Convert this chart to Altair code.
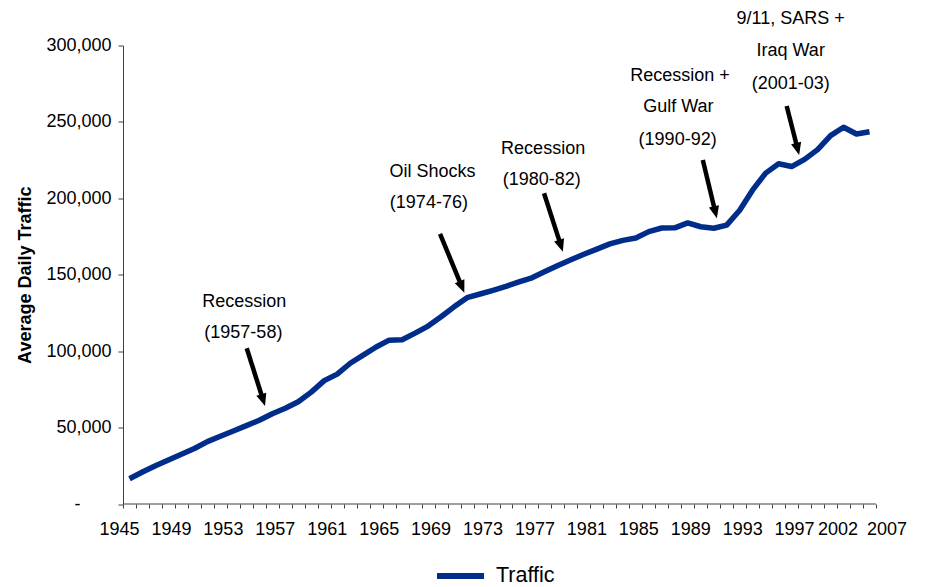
import math
import altair as alt
import pandas as pd

# ---------------- data ----------------
years = list(range(1945, 2003))
traffic = [16500, 20900, 25000, 28800, 32500, 36300, 40800, 44300, 47800, 51300,
           54800, 59100, 62700, 66900, 73200, 80700, 85000, 92100, 97400, 102700,
           107200, 107500, 111800, 116400, 122500, 129000, 135000, 137400, 139800, 142400,
           145300, 148000, 152100, 156100, 159800, 163400, 166800, 170200, 172500, 174000,
           178200, 180600, 180700, 183900, 181400, 180400, 182500, 192200, 205500, 216500,
           222600, 220800, 225500, 231900, 241000, 246500, 242100, 243600]
series_name = "Traffic"

x_tick_labels = ["1945", "1949", "1953", "1957", "1961", "1965", "1969", "1973",
                 "1977", "1981", "1985", "1989", "1993", "1997", "2002", "2007"]
x_label_slots = [1945, 1949, 1953, 1957, 1961, 1965, 1969, 1973,
                 1977, 1981, 1985, 1989, 1993, 1997, 2000.35, 2004.12]
y_ticks = [0, 50000, 100000, 150000, 200000, 250000, 300000]

ann_text = ["Recession", "(1957-58)", "Oil Shocks", "(1974-76)", "Recession", "(1980-82)",
            "Recession +", "Gulf War", "(1990-92)", "9/11, SARS +", "Iraq War", "(2001-03)"]
ann_x = [1954.34, 1954.27, 1968.84, 1968.56, 1977.36, 1977.26,
         1987.91, 1987.78, 1987.72, 1996.43, 1996.43, 1996.43]
ann_y = [132400, 111700, 217400, 196700, 232300, 212000,
         280000, 260000, 238200, 317300, 296400, 274800]

arrow_x1 = [1954.53, 1969.42, 1977.43, 1989.66, 1996.12]
arrow_y1 = [101900, 176700, 203300, 225100, 260400]
arrow_x2 = [1955.94, 1971.29, 1978.88, 1990.74, 1997.08]
arrow_y2 = [64100, 138300, 165100, 186900, 228400]

# ---------------- layout / style ----------------
X0, X1 = 1945, 2003          # extent of the category axis line
X_END = 2004.2               # scale end (room for the last, overhanging label)
PX_PER_YEAR = 753 / (X1 - X0)
W = PX_PER_YEAR * (X_END - X0)
H = 458.5
YMAX = 300000
PAD_L, PAD_T, PAD_B = 115, 37.5, 83
PAD_R = 914 - PAD_L - W
FONT = "Liberation Sans"
LINE_COLOR = "#002D8A"
AXIS_COLOR = "#404040"
HEAD_LEN = 12.4
HEAD_PATH = "M0,0L-0.8,-1.9L0.8,-1.9Z"

df = pd.DataFrame({"year": years, "traffic": traffic})
df["series"] = series_name
df["mid"] = df["year"] + 0.5

ann = pd.DataFrame({"text": ann_text, "x": ann_x, "y": ann_y})
baseline = pd.DataFrame({"a": [X0], "b": [X1], "c": [0]})

pxy = H / YMAX
rows = []
for a, b, c, d in zip(arrow_x1, arrow_y1, arrow_x2, arrow_y2):
    dxp = (c - a) * PX_PER_YEAR
    dyp = (b - d) * pxy
    ln = math.hypot(dxp, dyp)
    theta = math.degrees(math.atan2(dxp, dyp))
    back = HEAD_LEN * 0.7
    sx = c - (dxp / ln) * back / PX_PER_YEAR
    sy = d + (dyp / ln) * back / pxy
    rows.append({"x1": a, "y1": b, "x2": c, "y2": d, "sx": sx, "sy": sy,
                 "angle": (360 - theta) % 360})
arrows = pd.DataFrame(rows)

x_scale = alt.Scale(domain=[X0, X_END], nice=False, zero=False)
y_scale = alt.Scale(domain=[0, YMAX], nice=False, zero=True)

slots = "[" + ",".join(str(s) for s in x_label_slots) + "]"
texts = "[" + ",".join("'" + t + "'" for t in x_tick_labels) + "]"
x_label_expr = f"indexof({slots}, datum.value) >= 0 ? {texts}[indexof({slots}, datum.value)] : ''"
y_label_expr = "datum.value == 0 ? '-' : format(datum.value, ',')"

x_axis = alt.Axis(
    values=list(range(X0, X1 + 1)) + x_label_slots[-2:], labelExpr=x_label_expr,
    title=None, grid=False, domain=False,
    tickSize=4, tickColor=AXIS_COLOR, labelFont=FONT,
    labelFontSize=18, labelColor="black", labelPadding=12, labelFlush=False,
    labelOverlap=False, labelBound=False, labelOffset=-4,
    tickOpacity={"condition": {"test": f"datum.value > {X1} || datum.value != floor(datum.value)",
                               "value": 0}, "value": 1},
)
y_axis = alt.Axis(
    values=y_ticks, labelExpr=y_label_expr, title="Average Daily Traffic", grid=False,
    tickSize=5, tickColor=AXIS_COLOR, domainColor=AXIS_COLOR, labelFont=FONT,
    labelFontSize=18, labelColor="black",
    labelPadding={"condition": {"test": "datum.value == 0", "value": 38}, "value": 7},
    titleFont=FONT, titleFontSize=18, titleFontWeight="bold", titleColor="black",
    titlePadding=11,
)

axis_line = alt.Chart(baseline).mark_rule(color=AXIS_COLOR, strokeWidth=1).encode(
    x=alt.X("a:Q", scale=x_scale, axis=x_axis),
    x2="b:Q",
    y=alt.Y("c:Q", scale=y_scale, axis=y_axis),
)

line = alt.Chart(df).mark_line(strokeWidth=5.5, strokeJoin="round").encode(
    x=alt.X("mid:Q", scale=x_scale, axis=x_axis),
    y=alt.Y("traffic:Q", scale=y_scale, axis=y_axis),
    color=alt.Color(
        "series:N", scale=alt.Scale(range=[LINE_COLOR]),
        legend=alt.Legend(title=None, orient="none", legendX=311, legendY=504,
                          symbolType="stroke", symbolSize=2209, symbolStrokeWidth=6,
                          labelFont=FONT, labelFontSize=21.5, labelColor="black",
                          labelOffset=9, padding=0),
    ),
)

labels = alt.Chart(ann).mark_text(font=FONT, fontSize=18, color="black",
                                  align="center", baseline="middle").encode(
    x=alt.X("x:Q", scale=x_scale, axis=x_axis),
    y=alt.Y("y:Q", scale=y_scale, axis=y_axis),
    text="text:N",
)

shafts = alt.Chart(arrows).mark_rule(strokeWidth=4.5, color="black").encode(
    x=alt.X("x1:Q", scale=x_scale, axis=x_axis),
    y=alt.Y("y1:Q", scale=y_scale, axis=y_axis),
    x2="sx:Q", y2="sy:Q",
)

heads = alt.Chart(arrows).mark_point(shape=HEAD_PATH, filled=True, size=169,
                                     color="black", opacity=1, strokeWidth=0).encode(
    x=alt.X("x2:Q", scale=x_scale, axis=x_axis),
    y=alt.Y("y2:Q", scale=y_scale, axis=y_axis),
    angle=alt.Angle("angle:Q", scale=None),
)

chart = alt.layer(axis_line, line, shafts, heads, labels).properties(
    width=W, height=H,
    autosize=alt.AutoSizeParams(type="none"),
    padding={"left": PAD_L, "top": PAD_T, "right": PAD_R, "bottom": PAD_B},
).configure(font=FONT, background="white").configure_view(stroke=None)

chart.save("out.html", embed_options={"renderer": "svg", "actions": False})
